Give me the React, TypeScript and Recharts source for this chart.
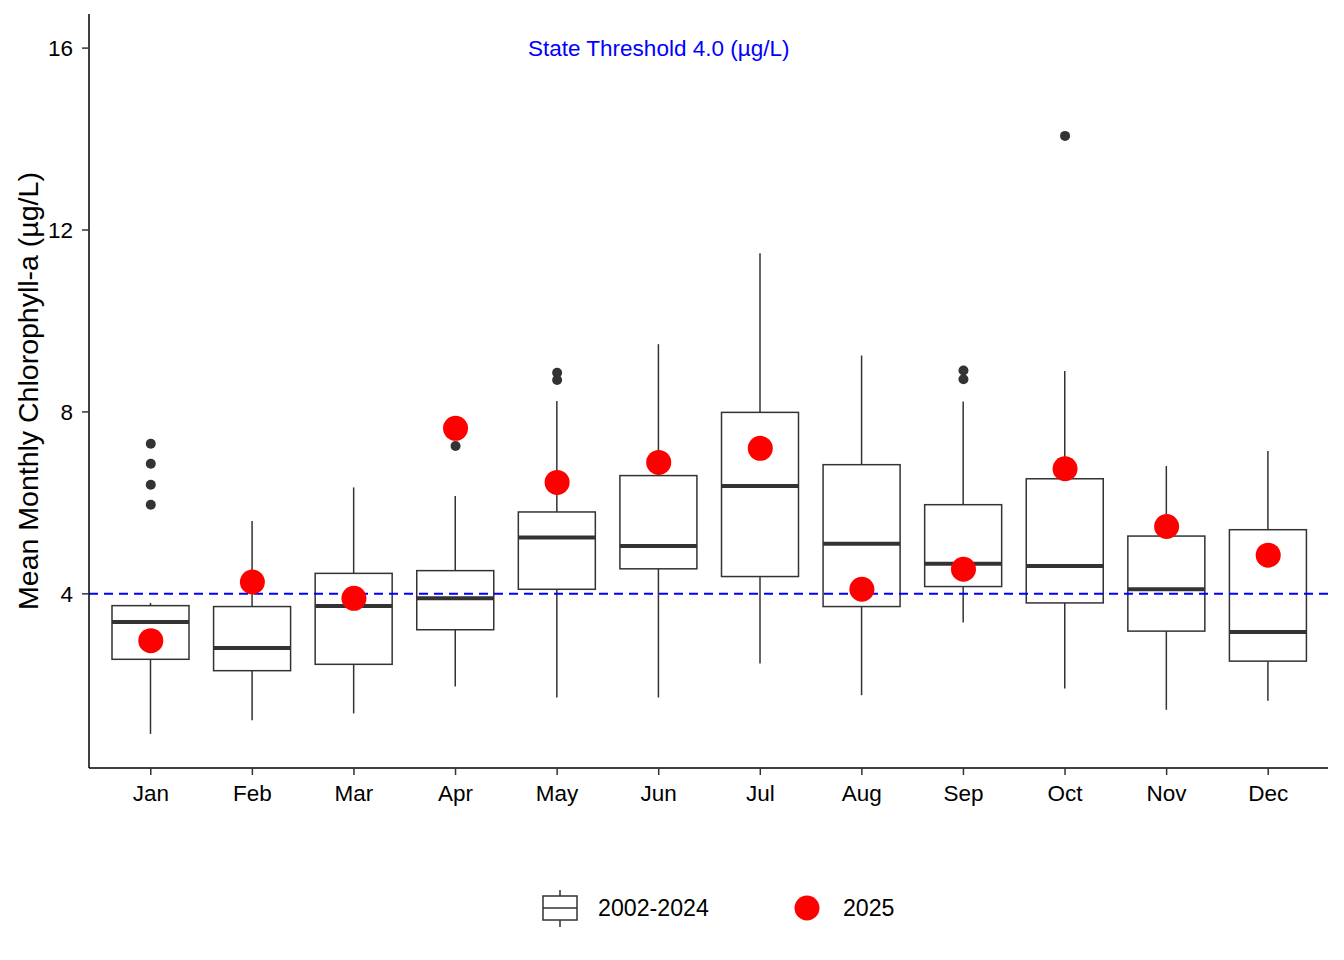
import {
  Bar,
  ComposedChart,
  Line,
  ReferenceDot,
  ReferenceLine,
  XAxis,
  YAxis,
} from "recharts";

document.body.style.margin = "0";

const FONT = '"Liberation Sans", Arial, sans-serif';
const INK = "#333333";

const months = ["Jan", "Feb", "Mar", "Apr", "May", "Jun", "Jul", "Aug", "Sep", "Oct", "Nov", "Dec"];

// 2002-2024 box stats
const whiskerLow = [0.92, 1.22, 1.37, 1.96, 1.72, 1.72, 2.47, 1.77, 3.37, 1.92, 1.45, 1.65];
const q1 = [2.56, 2.31, 2.45, 3.21, 4.1, 4.55, 4.38, 3.72, 4.16, 3.8, 3.18, 2.52];
const median = [3.38, 2.81, 3.73, 3.9, 5.24, 5.05, 6.37, 5.1, 4.66, 4.61, 4.1, 3.16];
const q3 = [3.74, 3.72, 4.45, 4.51, 5.8, 6.6, 7.99, 6.84, 5.96, 6.53, 5.27, 5.41];
const whiskerHigh = [3.8, 5.6, 6.34, 6.15, 8.24, 9.49, 11.49, 9.24, 8.23, 8.9, 6.81, 7.14];
const outliers = [
  [7.3, 6.86, 6.4, 5.96],
  [],
  [],
  [7.25],
  [8.86, 8.7],
  [],
  [],
  [],
  [8.91, 8.72],
  [14.07],
  [],
  [],
];

const value2025 = [2.97, 4.26, 3.9, 7.64, 6.45, 6.89, 7.2, 4.1, 4.54, 6.75, 5.48, 4.85];

const yTicks = [4, 8, 12, 16];
const THRESHOLD = 4;

const data = months.map((month, i) => ({
  month,
  whisker: [whiskerLow[i], whiskerHigh[i]],
  q1: q1[i],
  median: median[i],
  q3: q3[i],
  o1: outliers[i][0] ?? null,
  o2: outliers[i][1] ?? null,
  o3: outliers[i][2] ?? null,
  o4: outliers[i][3] ?? null,
  v2025: value2025[i],
}));

// the bar spans the whisker range, so the box stats map linearly inside it
function BoxShape(props: any) {
  const { x, y, width, height, payload } = props;
  if (!payload || height == null) return null;
  const top = Math.min(y, y + height);
  const bottom = Math.max(y, y + height);
  const [lo, hi] = payload.whisker;
  const toPx = (v: number) => bottom - ((v - lo) / (hi - lo)) * (bottom - top);
  const cx = x + width / 2;
  const yq3 = toPx(payload.q3);
  const yq1 = toPx(payload.q1);
  const ymed = toPx(payload.median);
  return (
    <g>
      <line x1={cx} x2={cx} y1={top} y2={yq3} stroke={INK} strokeWidth={1.5} />
      <line x1={cx} x2={cx} y1={yq1} y2={bottom} stroke={INK} strokeWidth={1.5} />
      <rect x={x} y={yq3} width={width} height={yq1 - yq3} fill="#fff" stroke={INK} strokeWidth={1.5} />
      <line x1={x} x2={x + width} y1={ymed} y2={ymed} stroke={INK} strokeWidth={4} />
    </g>
  );
}

function YTitle(props: any) {
  const cy = props.viewBox.y + props.viewBox.height / 2;
  return (
    <text
      x={38}
      y={cy}
      transform={`rotate(-90, 38, ${cy})`}
      textAnchor="middle"
      fontSize={28.5}
      fontFamily={FONT}
      fill="#000"
    >
      Mean Monthly Chlorophyll-a (µg/L)
    </text>
  );
}

function LegendBox() {
  return (
    <div
      style={{
        position: "absolute",
        left: 540,
        top: 887,
        display: "flex",
        alignItems: "center",
        fontFamily: FONT,
        fontSize: 23.2,
        color: "#000",
      }}
    >
      <svg width={40} height={42} style={{ display: "block" }}>
        <line x1={20} x2={20} y1={3} y2={40} stroke={INK} strokeWidth={1.5} />
        <rect x={3} y={9} width={34} height={24} fill="#fff" stroke={INK} strokeWidth={1.5} />
        <line x1={3} x2={37} y1={21} y2={21} stroke={INK} strokeWidth={1.5} />
      </svg>
      <span style={{ marginLeft: 18 }}>2002-2024</span>
      <svg width={28} height={28} style={{ display: "block", marginLeft: 84 }}>
        <circle cx={14} cy={14} r={12.5} fill="red" />
      </svg>
      <span style={{ marginLeft: 22 }}>2025</span>
    </div>
  );
}

const outlierDot = { r: 5, fill: INK, stroke: "none" };

export default function App() {
  return (
    <div style={{ position: "relative", width: 1344, height: 960, background: "#fff" }}>
      <ComposedChart
        width={1344}
        height={960}
        data={data}
        margin={{ top: 14, right: 16, bottom: 132, left: 0 }}
      >
        <XAxis
          dataKey="month"
          padding={{ left: 11, right: 9 }}
          height={60}
          tickSize={7}
          tickMargin={10}
          axisLine={{ stroke: "#000", strokeWidth: 1.5 }}
          tickLine={{ stroke: INK, strokeWidth: 1.5 }}
          tick={{ fontSize: 22.5, fill: "#000", fontFamily: FONT }}
        />
        <YAxis
          width={89}
          domain={[0.17, 16.75]}
          ticks={yTicks}
          allowDataOverflow
          tickSize={7}
          tickMargin={9}
          axisLine={{ stroke: "#000", strokeWidth: 1.5 }}
          tickLine={{ stroke: INK, strokeWidth: 1.5 }}
          tick={{ fontSize: 22.5, fill: "#000", fontFamily: FONT }}
          label={<YTitle />}
        />
        <Bar dataKey="whisker" barSize={77} shape={<BoxShape />} isAnimationActive={false} />
        <Line dataKey="o1" stroke="none" dot={outlierDot} activeDot={false} isAnimationActive={false} />
        <Line dataKey="o2" stroke="none" dot={outlierDot} activeDot={false} isAnimationActive={false} />
        <Line dataKey="o3" stroke="none" dot={outlierDot} activeDot={false} isAnimationActive={false} />
        <Line dataKey="o4" stroke="none" dot={outlierDot} activeDot={false} isAnimationActive={false} />
        <Line
          dataKey="v2025"
          stroke="none"
          dot={{ r: 12.5, fill: "red", stroke: "none" }}
          activeDot={false}
          isAnimationActive={false}
        />
        <ReferenceLine y={THRESHOLD} stroke="blue" strokeWidth={2} strokeDasharray="9 6" />
        <ReferenceDot
          x="Jun"
          y={16}
          r={0}
          fill="none"
          stroke="none"
          label={{
            value: "State Threshold 4.0 (µg/L)",
            position: "center",
            fill: "blue",
            fontSize: 22.5,
            fontFamily: FONT,
          }}
        />
      </ComposedChart>
      <LegendBox />
    </div>
  );
}
